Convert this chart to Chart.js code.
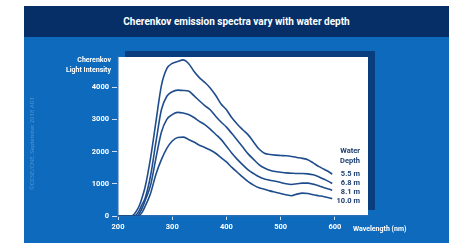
<!DOCTYPE html>
<html>
<head>
<meta charset="utf-8">
<script src="https://cdn.jsdelivr.net/npm/chart.js@4/dist/chart.umd.min.js"></script>
<style>
  html, body { margin:0; padding:0; background:#ffffff; }
  #wrap { position:relative; width:449px; height:243px; overflow:hidden; background:#ffffff; font-family: Roboto, "Liberation Sans", sans-serif; }
  #header { position:absolute; left:24px; top:6px; width:425px; height:31px; background:#052f66; color:#ffffff; font-weight:700; font-size:10px; text-align:center; line-height:31px; }
  #body { position:absolute; left:24px; top:37px; width:425px; height:206px; background:#0d6abd; }
  #chart { position:absolute; left:0; top:0; }
  .t { position:absolute; font-weight:700; white-space:nowrap; }
  #ytitle { right:338px; top:55px; color:#ffffff; font-size:7px; line-height:10px; text-align:right; }
  #xtitle { left:353px; top:224px; color:#ffffff; font-size:7px; line-height:10px; }
  .lg { right:89px; color:#1d3f70; font-size:7.5px; line-height:9px; text-align:right; }
  #credit { left:28px; top:190px; color:#5f9fdc; font-size:6px; transform-origin:0 0; transform:rotate(-90deg); font-weight:400; opacity:0.8; }
</style>
</head>
<body>
<div id="wrap">
  <div id="header">Cherenkov emission spectra vary with water depth</div>
  <div id="body"></div>
  <canvas id="chart" width="449" height="243"></canvas>
  <div class="t" id="ytitle">Cherenkov<br>Light Intensity</div>
  <div class="t" id="xtitle">Wavelength (nm)</div>
  <div class="t lg" style="top:146px">Water</div>
  <div class="t lg" style="top:156px">Depth</div>
  <div class="t lg" style="top:169px">5.5 m</div>
  <div class="t lg" style="top:178px">6.8 m</div>
  <div class="t lg" style="top:187px">8.1 m</div>
  <div class="t lg" style="top:196px">10.0 m</div>
  <div class="t" id="credit">©CCSE/CNE, September 2018 AD1</div>
</div>
<script>
const wavelengths = [200,225,230,235,240,245,250,260,270,280,290,300,310,320,330,340,350,360,370,380,390,400,410,420,430,440,450,460,470,480,490,500,510,520,530,540,550,560,570,580,590,595];
const depth55 = [0,0,60,180,350,600,900,1800,2930,4050,4580,4740,4800,4850,4740,4500,4300,4150,3980,3750,3480,3300,3050,2850,2680,2520,2300,2080,1950,1910,1890,1880,1870,1850,1820,1790,1750,1650,1540,1450,1360,1300];
const depth68 = [0,0,0,60,200,380,550,1250,2300,3300,3720,3860,3910,3900,3880,3740,3580,3430,3300,3100,2920,2760,2560,2350,2140,1930,1760,1600,1490,1420,1380,1360,1340,1330,1320,1320,1310,1280,1220,1140,1060,1010];
const depth81 = [0,0,0,0,100,260,480,950,1800,2600,3000,3150,3220,3200,3150,3060,2940,2840,2700,2540,2380,2170,1950,1760,1590,1430,1320,1220,1150,1110,1080,1040,1000,980,1000,1020,1020,990,940,880,830,800];
const depth100 = [0,0,0,0,30,130,300,700,1300,1750,2100,2330,2440,2450,2380,2300,2200,2130,2050,1950,1810,1680,1510,1360,1210,1070,960,880,830,780,740,700,660,630,680,710,700,660,630,600,560,540];
const seriesNames = ['5.5 m','6.8 m','8.1 m','10.0 m'];
const xTicks = [200,300,400,500,600];
const yTicks = [0,1000,2000,3000,4000];

const allSeries = [depth55, depth68, depth81, depth100];
const datasets = allSeries.map((vals, i) => ({
  label: seriesNames[i],
  data: wavelengths.map((w, j) => ({x: w, y: vals[j]})),
  borderColor: '#1f4d8c',
  borderWidth: 1.6,
  pointRadius: 0,
  fill: false,
  cubicInterpolationMode: 'monotone'
}));

const panelPlugin = {
  id: 'panel',
  beforeDraw(chart) {
    const {ctx, chartArea: a} = chart;
    ctx.save();
    ctx.fillStyle = '#0a3d7d';
    ctx.fillRect(a.left + 7, a.top - 6, a.right - a.left, a.bottom - a.top);
    ctx.fillStyle = '#ffffff';
    ctx.fillRect(a.left, a.top, a.right - a.left, a.bottom - a.top);
    ctx.restore();
  }
};

new Chart(document.getElementById('chart'), {
  type: 'line',
  data: { datasets },
  plugins: [panelPlugin],
  options: {
    responsive: false,
    animation: false,
    layout: { padding: { top: 57, right: 81, left: 0, bottom: 0 } },
    plugins: { legend: { display: false }, tooltip: { enabled: false }, title: { display: false } },
    scales: {
      x: {
        type: 'linear', min: 200, max: 661,
        afterBuildTicks: s => { s.ticks = xTicks.map(v => ({value: v})); },
        afterFit: s => { s.height = 27; },
        border: { display: true, color: '#2b6cb3', width: 1.5 },
        grid: { display: true, drawOnChartArea: false, drawTicks: true, tickLength: 4, color: '#cfe0f2' },
        ticks: { color: '#ffffff', padding: 3, font: { family: 'Roboto', weight: 'bold', size: 7.5 } }
      },
      y: {
        type: 'linear', min: 0, max: 4940,
        afterBuildTicks: s => { s.ticks = yTicks.map(v => ({value: v})); },
        afterFit: s => { s.width = 118; },
        border: { display: true, color: '#2b6cb3', width: 1.5 },
        grid: { display: true, drawOnChartArea: false, drawTicks: true, tickLength: 6, color: '#cfe0f2' },
        ticks: { color: '#ffffff', padding: 3, font: { family: 'Roboto', weight: 'bold', size: 7.5 }, callback: v => String(v) }
      }
    }
  }
});
</script>
</body>
</html>
